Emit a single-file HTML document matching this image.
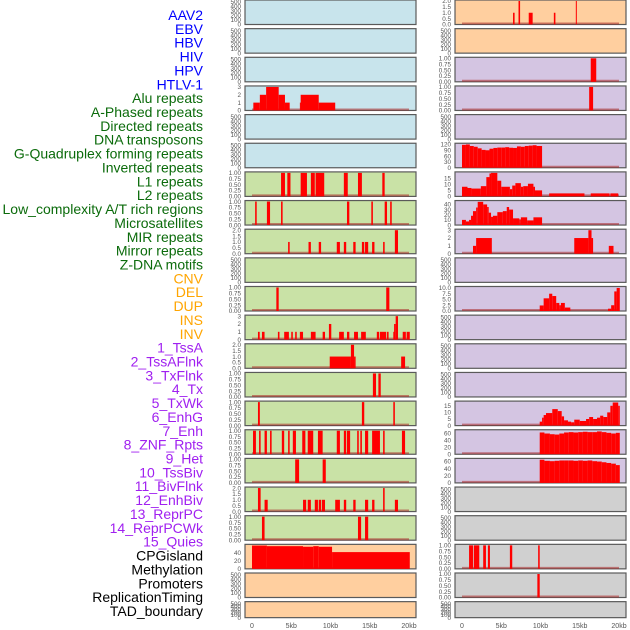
<!DOCTYPE html>
<html><head><meta charset="utf-8"><style>
html,body{margin:0;padding:0;background:#fff;}
svg{display:block;}
text{font-family:"Liberation Sans",sans-serif;}
</style></head><body>
<svg id="chart" width="630" height="630" viewBox="0 0 630 630" xmlns="http://www.w3.org/2000/svg"></svg>
<script>
// ---- Labels ----
const labelNames = ["AAV2","EBV","HBV","HIV","HPV","HTLV-1","Alu repeats","A-Phased repeats","Directed repeats","DNA transposons","G-Quadruplex forming repeats","Inverted repeats","L1 repeats","L2 repeats","Low_complexity A/T rich regions","Microsatellites","MIR repeats","Mirror repeats","Z-DNA motifs","CNV","DEL","DUP","INS","INV","1_TssA","2_TssAFlnk","3_TxFlnk","4_Tx","5_TxWk","6_EnhG","7_Enh","8_ZNF_Rpts","9_Het","10_TssBiv","11_BivFlnk","12_EnhBiv","13_ReprPC","14_ReprPCWk","15_Quies","CPGisland","Methylation","Promoters","ReplicationTiming","TAD_boundary"];
const labelGroups = [0,0,0,0,0,0,1,1,1,1,1,1,1,1,1,1,1,1,1,2,2,2,2,2,3,3,3,3,3,3,3,3,3,3,3,3,3,3,3,4,4,4,4,4];
const groupColors = ["#0000ff","#0b6b0b","#ffa500","#a020f0","#000000"];
const panelColors = ["#c8e4ec","#c9e2a6","#ffcf9f","#d4c5e2","#d0d0d0"];
const xTickValues = [0,5,10,15,20];
const xTickLabels = ["0","5kb","10kb","15kb","20kb"];

// ---- Tick label sets ----
const t500 = ["0","100","200","300","400","500"];
const t1 = ["0.00","0.25","0.50","0.75","1.00"];
const t2 = ["0.0","0.5","1.0","1.5","2.0"];
const t3 = ["0","1","2","3"];
const t120 = ["0","30","60","90","120"];
const t15 = ["0","5","10","15"];
const t40 = ["0","10","20","30","40"];
const t10 = ["0.0","2.5","5.0","7.5","10.0"];
const t60 = ["0","20","40","60"];
const tCNV = ["0","20","40"];

// ---- Segment data [startKb, endKb, value] ----
const segHIV = [[0.17,1.0,1],[1.0,1.8,2],[1.8,3.4,3],[3.4,4.2,2],[4.2,4.8,1],[6.1,6.2,1],[6.2,8.5,2],[8.5,10.6,1]];
const segAlu = [[3.7,4.2,1],[4.5,4.9,1],[6.2,7.0,1],[7.5,8.0,1],[8.1,9.2,1],[11.7,12.2,1],[13.5,14.0,1],[16.6,16.9,1]];
const segAPhased = [[0.4,0.6,1],[1.9,2.3,1],[3.7,3.9,1],[12.1,12.4,1],[15.2,15.4,1],[16.9,17.2,1],[17.6,17.8,1]];
const segDirected = [[4.6,4.8,1],[7.2,7.5,1],[8.5,8.8,1],[10.8,11.2,1],[11.7,12.0,1],[12.9,13.2,1],[14.0,14.3,1],[14.4,14.8,1],[15.3,15.6,1],[16.7,16.9,1],[18.2,18.6,2]];
const segGQuad = [[3.1,3.4,1],[17.1,17.5,1]];
const segInverted = [[0.76,0.98,1],[1.27,1.6,1],[3.3,3.5,1],[4.1,4.7,1],[5.0,5.2,1],[5.5,5.7,1],[6.1,6.5,1],[7.5,8.1,1],[9.0,9.3,1],[9.8,10.1,2],[11.1,11.7,1],[12.1,12.4,1],[13.0,13.5,1],[13.9,14.5,1],[15.9,16.2,1],[16.3,17.1,1],[17.2,17.4,1],[18.0,18.2,1],[18.1,18.3,2],[18.3,18.6,3],[19.2,19.6,1],[19.7,20.1,1]];
const segL1 = [[9.9,12.6,1],[12.6,13.0,2],[13.0,13.2,1],[19.0,19.5,1]];
const segL2 = [[15.4,15.8,1],[16.1,16.4,1]];
const segLowC = [[0.76,1.0,1],[14.0,14.3,1],[18.0,18.2,1]];
const segMicro = [[0.13,0.5,1],[0.9,1.1,1],[1.6,1.9,1],[2.3,2.5,1],[3.8,4.1,1],[4.6,4.8,1],[5.2,5.6,1],[6.4,6.8,1],[7.1,7.8,1],[8.4,9.0,1],[10.8,11.2,1],[11.7,12.0,1],[12.1,12.5,1],[13.4,13.6,1],[13.8,14.0,1],[14.4,14.8,1],[15.3,16.3,1],[16.7,16.9,1],[19.1,19.5,1]];
const segMIR = [[5.5,6.0,1],[9.0,9.4,1]];
const segMirror = [[0.76,1.1,2],[1.6,2.0,1],[6.5,6.9,1],[7.1,7.5,1],[8.0,8.4,1],[8.5,8.8,1],[8.9,9.3,1],[10.6,11.2,1],[11.7,12.0,1],[12.9,13.2,1],[14.4,14.8,1],[15.3,15.6,1],[16.7,16.9,2],[18.2,18.6,1]];
const segZDNA = [[1.27,1.6,1],[13.5,13.9,1],[14.4,14.8,1]];
const segCNV = [[0,1.9,58],[1.9,6.5,56.5],[6.5,7.8,55],[7.8,8.5,56.5],[8.5,10.2,55],[10.2,20.1,41.7]];
const segINS = [[6.5,6.7,1],[7.2,7.4,2],[8.5,9.0,1],[11.7,11.9,1],[14.5,14.6,2]];
const segTssA = [[16.4,17.1,1]];
const segTssAFlnk = [[16.2,16.7,1]];
const segTx = [[0,0.5,118],[0.5,1.0,120],[1.0,1.5,112],[1.5,2.0,108],[2.0,2.5,100],[2.5,3.0,92],[3.0,3.5,90],[3.5,4.0,98],[4.0,4.5,102],[4.5,5.0,104],[5.0,5.5,104],[5.5,6.0,106],[6.0,6.5,103],[6.5,7.0,102],[7.0,7.5,110],[7.5,8.0,108],[8.0,8.5,112],[8.5,9.0,114],[9.0,9.5,116],[9.5,10.2,112]];
const segTxWk = [[0,0.7,8],[0.7,1.2,7],[1.2,2.4,6.5],[2.4,3.1,8.5],[3.1,3.5,16],[3.5,3.7,19],[3.7,4.5,19.5],[4.5,5.0,13],[5.0,6.1,8],[6.1,6.4,6],[6.4,6.8,9],[6.8,7.5,11],[7.5,7.8,8],[7.8,8.4,8.5],[8.4,9.1,10.5],[9.1,9.3,8],[9.3,10.2,5],[11.1,15.6,2.5],[16.4,18.8,2.5],[18.9,19.9,2.5]];
const segEnhG = [[0,0.5,10],[0.5,0.9,7],[0.9,1.15,10],[1.15,1.4,18],[1.4,1.8,27],[1.8,2.0,34],[2.0,2.7,45],[2.7,3.2,40],[3.2,3.4,35],[3.4,3.7,24],[3.7,3.95,16],[3.95,4.5,18],[4.5,5.2,25],[5.2,5.7,27],[5.7,6.0,35],[6.0,6.5,30],[6.5,7.3,13],[7.3,7.5,11],[7.5,8.3,15],[8.3,9.1,9],[9.1,10.2,15]];
const segEnh = [[1.4,1.8,1],[1.8,3.8,2],[14.3,16.1,2],[16.1,16.5,3],[16.5,16.7,2],[18.7,19.3,1]];
const segHet = [[9.9,10.4,2.4],[10.4,11.1,5.5],[11.1,11.5,7.5],[11.5,12.0,6.5],[12.0,12.4,3.5],[12.4,12.6,2.5],[12.6,13.1,3.5],[13.1,13.8,1.5],[18.6,19.0,1],[19.0,19.4,2.5],[19.4,19.7,8.5],[19.7,20.1,10]];
const segReprPC = [[9.9,10.2,3],[10.2,10.4,6],[10.4,10.7,8],[10.7,11.5,9.5],[11.5,12.2,12.5],[12.2,12.7,11],[12.7,13.0,7],[13.0,13.5,4],[13.5,13.9,3],[13.9,14.3,2.5],[14.3,15.0,4.5],[15.0,15.8,3.5],[15.8,16.2,5],[16.2,16.7,6.5],[16.7,17.2,5],[17.2,17.6,6],[17.6,18.0,7.5],[18.0,18.5,6.5],[18.5,18.9,10],[18.9,19.2,15],[19.2,19.9,17.5],[19.9,20.1,15]];
const segReprPCWk = [[9.9,10.5,63],[10.5,11.2,60],[11.2,11.8,58],[11.8,12.4,57],[12.4,13.0,60],[13.0,13.6,63],[13.6,14.2,64],[14.2,14.8,63],[14.8,15.4,64],[15.4,16.0,65],[16.0,16.6,64],[16.6,17.2,64],[17.2,17.8,66],[17.8,18.4,64],[18.4,19.0,62],[19.0,19.6,60],[19.6,20.1,62]];
const segQuies = [[9.9,10.5,65],[10.5,11.2,62],[11.2,11.8,61],[11.8,12.4,62],[12.4,13.0,63],[13.0,13.6,63],[13.6,14.2,63],[14.2,14.8,62],[14.8,15.4,63],[15.4,16.0,62],[16.0,16.6,63],[16.6,17.2,61],[17.2,17.8,60],[17.8,18.4,58],[18.4,19.0,56],[19.0,19.6,54],[19.6,20.1,50]];
const segPromoters = [[0.9,1.4,1],[1.5,2.2,1],[2.7,3.05,1],[3.3,3.56,1],[6.1,6.4,1],[9.7,9.9,1]];
const segRepTiming = [[9.6,9.9,1]];

const leftPanels = [
 [0,null,500,t500],[1,null,500,t500],[2,null,500,t500],[3,segHIV,3,t3],[4,null,500,t500],[5,null,500,t500],
 [6,segAlu,1,t1],[7,segAPhased,1,t1],[8,segDirected,2,t2],[9,null,500,t500],[10,segGQuad,1,t1],[11,segInverted,3,t3],
 [12,segL1,2,t2],[13,segL2,1,t1],[14,segLowC,1,t1],[15,segMicro,1,t1],[16,segMIR,1,t1],[17,segMirror,2,t2],[18,segZDNA,1,t1],
 [19,segCNV,58.5,tCNV],[20,null,500,t500],[21,null,500,t500]
];
const rightPanels = [
 [22,segINS,2,t2],[23,null,500,t500],[24,segTssA,1,t1],[25,segTssAFlnk,1,t1],[26,null,500,t500],[27,segTx,121,t120],
 [28,segTxWk,19.5,t15],[29,segEnhG,45.6,t40],[30,segEnh,3,t3],[31,null,500,t500],[32,segHet,10.2,t10],[33,null,500,t500],
 [34,null,500,t500],[35,null,500,t500],[36,segReprPC,17.8,t15],[37,segReprPCWk,68,t60],[38,segQuies,66,t60],
 [39,null,500,t500],[40,null,500,t500],[41,segPromoters,1,t1],[42,segRepTiming,1,t1],[43,null,500,t500]
];

const NS = "http://www.w3.org/2000/svg";
const svg = document.getElementById("chart");
function mk(tag, attrs, parent){const e=document.createElementNS(NS,tag);for(const k in attrs)e.setAttribute(k,attrs[k]);(parent||svg).appendChild(e);return e;}

labelNames.forEach((n,i)=>{
  const t=mk("text",{x:203,y:15+13.86*i+5,"text-anchor":"end","font-size":"14",fill:groupColors[labelGroups[i]]});
  
  
  t.textContent=n;
});

const cols=[{x0:245,x1:416,zero:252},{x0:455,x1:626,zero:462}];
const pxPerKb=7.85;
function xScale(col,kb){return cols[col].zero+kb*pxPerKb;}
function rowTop(r){return 28.65*r;}
function rowH(r){return r===21?16:24.5;}

function drawPanel(col,row,p){
  const [li,segs,ymax,ticks]=p;
  const g=mk("g",{});
  
  
  const top=rowTop(row), h=rowH(row), bottom=top+h;
  const x0=cols[col].x0, x1=cols[col].x1;
  const bg=mk("rect",{x:x0,y:top,width:x1-x0,height:h,fill:panelColors[labelGroups[li]],stroke:"#5a5a5a","stroke-width":1.2},g);
  
  
  const yScale=v=>bottom-(v/ymax)*(h-1);
  const n=ticks.length;
  ticks.forEach((lab,k)=>{
    const v=parseFloat(lab);
    let y=yScale(v);
    if(segs===null) y=bottom-(k/(n-1))*(h-2);
    const t=mk("text",{x:x0-4,y:y+2.2,"text-anchor":"end","font-size":"6.3",fill:"#555"},g);
    
    
    t.textContent=lab;
  });
  if(segs){
    const bl=mk("line",{x1:xScale(col,0),x2:xScale(col,20),y1:bottom-1,y2:bottom-1,stroke:"rgba(170,40,40,0.55)","stroke-width":2},g);
    
    
    segs.forEach(s=>{
      const xa=xScale(col,s[0]), xb=xScale(col,s[1]);
      const yt=yScale(s[2]);
      const r=mk("rect",{x:xa,y:yt,width:Math.max(1,xb-xa),height:bottom-yt,fill:"#ff0000"},g);
      
      
    });
  }
}
leftPanels.forEach((p,i)=>drawPanel(0,i,p));
rightPanels.forEach((p,i)=>drawPanel(1,i,p));

[0,1].forEach(c=>{
  xTickValues.forEach((v,k)=>{
    const t=mk("text",{x:xScale(c,v),y:628,"text-anchor":"middle","font-size":"7",fill:"#555"});
    
    
    t.textContent=xTickLabels[k];
  });
});
</script>
</body></html>
